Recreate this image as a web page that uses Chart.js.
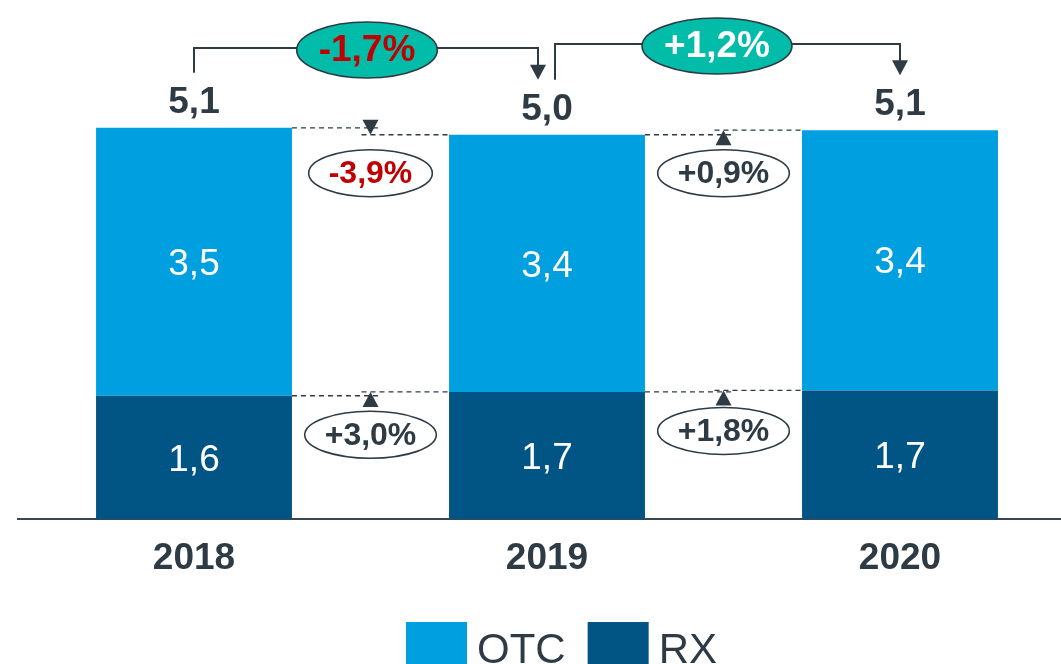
<!DOCTYPE html>
<html>
<head>
<meta charset="utf-8">
<script src="https://cdn.jsdelivr.net/npm/chart.js@4"></script>
<style>
  html, body { margin: 0; padding: 0; overflow: hidden; background: #fff; }
  #wrap { width: 1080px; height: 664px; }
</style>
</head>
<body>
<div id="wrap"><canvas id="chart"></canvas></div>
<script>
// valores (mil milhoes de unidades)
const years = ['2018', '2019', '2020'];
const rxValues = [1.61, 1.66, 1.68];
const otcValues = [3.50, 3.36, 3.40];
const otcChange = ['-3,9%', '+0,9%'];
const rxChange = ['+3,0%', '+1,8%'];
const totalChange = ['-1,7%', '+1,2%'];

const OTC_COLOR = '#009FE0';
const RX_COLOR = '#005585';
const DARK = '#2E3B45';
const RED = '#C00000';
const TEAL = '#00BCA8';
const FONT = '"Liberation Sans", Arial, sans-serif';

const fmt = v => v.toFixed(1).replace('.', ',');

function ellipse(ctx, cx, cy, rx, ry, fill) {
  ctx.beginPath();
  ctx.ellipse(cx, cy, rx, ry, 0, 0, Math.PI * 2);
  ctx.fillStyle = fill;
  ctx.fill();
  ctx.lineWidth = 1.6;
  ctx.strokeStyle = DARK;
  ctx.stroke();
}

function triangle(ctx, x, tipY, dir) {
  // dir 1 = aponta para baixo, -1 = para cima
  ctx.beginPath();
  ctx.moveTo(x, tipY);
  ctx.lineTo(x - 8, tipY - dir * 15);
  ctx.lineTo(x + 8, tipY - dir * 15);
  ctx.closePath();
  ctx.fillStyle = DARK;
  ctx.fill();
}

const annotations = {
  id: 'annotations',
  afterDatasetsDraw(chart) {
    const ctx = chart.ctx;
    const y = chart.scales.y;
    const rxMeta = chart.getDatasetMeta(0);
    const otcMeta = chart.getDatasetMeta(1);
    ctx.save();

    // valores dentro das barras
    ctx.textAlign = 'center';
    ctx.textBaseline = 'middle';
    ctx.fillStyle = '#fff';
    ctx.font = '37px ' + FONT;
    [rxMeta, otcMeta].forEach((meta, d) => {
      meta.data.forEach((bar, i) => {
        const v = chart.data.datasets[d].data[i];
        ctx.fillText(fmt(v), bar.x, (bar.y + bar.base) / 2 + 3);
      });
    });

    // totais
    const totals = years.map((_, i) => rxValues[i] + otcValues[i]);
    ctx.fillStyle = DARK;
    ctx.font = 'bold 37px ' + FONT;
    totals.forEach((t, i) => {
      ctx.fillText(fmt(t), otcMeta.data[i].x, y.getPixelForValue(t) - 25);
    });

    // linhas tracejadas + setas + elipses entre barras
    const drawStep = (meta, labels, offset) => {
      for (let i = 0; i < meta.data.length - 1; i++) {
        const a = meta.data[i], b = meta.data[i + 1];
        const xa = a.x + a.width / 2, xb = b.x - b.width / 2;
        const mid = (xa + xb) / 2;
        const ya = a.y, yb = b.y;
        ctx.setLineDash([5, 4]);
        ctx.lineWidth = 1.3;
        ctx.strokeStyle = DARK;
        ctx.beginPath();
        ctx.moveTo(xa, ya); ctx.lineTo(mid + 9, ya);
        ctx.moveTo(mid - 9, yb); ctx.lineTo(xb, yb);
        ctx.stroke();
        ctx.setLineDash([]);
        triangle(ctx, mid, yb, yb > ya ? 1 : -1);

        const txt = labels[i];
        ctx.font = 'bold 32px ' + FONT;
        const w = ctx.measureText(txt).width;
        const cy = Math.max(ya, yb) + offset;
        ellipse(ctx, mid, cy, w / 2 + 20, 23.5, '#fff');
        ctx.fillStyle = txt.startsWith('-') ? RED : DARK;
        ctx.fillText(txt, mid, cy + 1);
      }
    };
    drawStep(otcMeta, otcChange, 38.5);
    drawStep(rxMeta, rxChange, 39);

    // chavetas de variacao total
    const startOff = [0, 8], endOff = [-9, 0], lineY = [48, 44], ellX = [367, 717];
    for (let i = 0; i < totals.length - 1; i++) {
      const x0 = otcMeta.data[i].x + startOff[i];
      const x1 = otcMeta.data[i + 1].x + endOff[i];
      const y0 = y.getPixelForValue(totals[i]) - 55;
      const y1 = y.getPixelForValue(totals[i + 1]) - 55;
      ctx.lineWidth = 2;
      ctx.strokeStyle = DARK;
      ctx.beginPath();
      ctx.moveTo(x0, y0); ctx.lineTo(x0, lineY[i]);
      ctx.lineTo(x1, lineY[i]); ctx.lineTo(x1, y1 - 12);
      ctx.stroke();
      triangle(ctx, x1, y1, 1);

      const txt = totalChange[i];
      ctx.font = 'bold 37px ' + FONT;
      const w = ctx.measureText(txt).width;
      ellipse(ctx, ellX[i], lineY[i] + 2, w / 2 + 22, 28, TEAL);
      ctx.fillStyle = txt.startsWith('-') ? RED : '#fff';
      ctx.fillText(txt, ellX[i], lineY[i] + 3);
    }

    // legenda
    const items = [[otcMeta, 1], [rxMeta, 0]];
    let lx = 406;
    ctx.font = '42px ' + FONT;
    ctx.textAlign = 'left';
    ctx.textBaseline = 'alphabetic';
    items.forEach(([meta, d]) => {
      const ds = chart.data.datasets[d];
      ctx.fillStyle = ds.backgroundColor;
      ctx.fillRect(lx, 622, 61, 50);
      ctx.fillStyle = DARK;
      ctx.fillText(ds.label, lx + 71, 663);
      lx += 71 + ctx.measureText(ds.label).width + 22;
    });
    ctx.restore();
  }
};

new Chart(document.getElementById('chart'), {
  type: 'bar',
  data: {
    labels: years,
    datasets: [
      { label: 'RX', data: rxValues, backgroundColor: RX_COLOR },
      { label: 'OTC', data: otcValues, backgroundColor: OTC_COLOR }
    ]
  },
  options: {
    responsive: true,
    maintainAspectRatio: false,
    animation: false,
    datasets: { bar: { barPercentage: 0.555, categoryPercentage: 1, borderWidth: 0 } },
    layout: { padding: { left: 17.5, right: 3.5, top: 0, bottom: 64.6 } },
    plugins: { legend: { display: false }, tooltip: { enabled: false } },
    scales: {
      x: {
        stacked: true,
        grid: { display: false, drawTicks: false },
        border: { display: true, color: '#3B4650', width: 2 },
        ticks: { padding: 18, color: DARK, font: { family: FONT, size: 37, weight: 'bold' } }
      },
      y: {
        stacked: true,
        display: false,
        min: 0,
        max: 6.78
      }
    }
  },
  plugins: [annotations]
});
</script>
</body>
</html>
